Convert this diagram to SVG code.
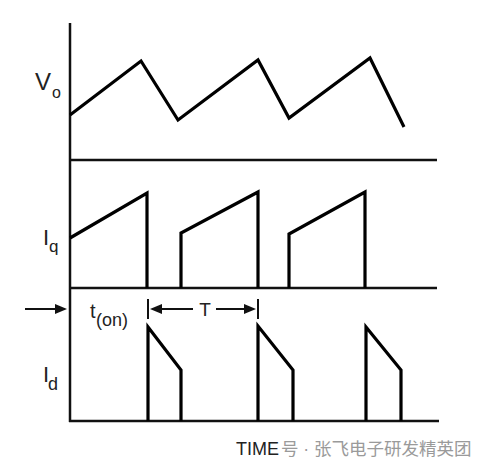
<svg xmlns="http://www.w3.org/2000/svg" width="490" height="474" viewBox="0 0 490 474">
<style>
.axis{stroke:#111;stroke-width:2.5;fill:none}
.wave{stroke:#000;stroke-width:3.2;fill:none;stroke-linejoin:miter}
.ann{stroke:#111;stroke-width:2;fill:none}
.head{fill:#111}
.lbl{font-family:"Liberation Sans",Arial,sans-serif;fill:#222}
.wm{font-family:"Liberation Sans","Noto Sans CJK SC",sans-serif;fill:#9a9a9a;font-size:17.5px}
</style>
<rect width="490" height="474" fill="#fff"/>
<g id="axes">
<line class="axis" x1="70" y1="23" x2="70" y2="422"/>
<line class="axis" x1="69" y1="160" x2="437" y2="160"/>
<line class="axis" x1="69" y1="288" x2="437" y2="288"/>
<line class="axis" x1="69" y1="421" x2="439" y2="421"/>
</g>
<g id="vo">
<polyline class="wave" points="70,115 141,61 178,120 258,60 289,118 370,58 404,127"/>
<text class="lbl" x="35" y="90" font-size="24">V</text>
<text class="lbl" x="52" y="98" font-size="16">o</text>
</g>
<g id="iq">
<polyline class="wave" points="70,238 147,193 147,288"/>
<polyline class="wave" points="181,288 181,233 258,192 258,288"/>
<polyline class="wave" points="289,288 289,234 365,192 365,288"/>
<text class="lbl" x="43" y="245" font-size="22">I</text>
<text class="lbl" x="49" y="252" font-size="17">q</text>
</g>
<g id="id">
<polyline class="wave" points="148,421 148,327 181,370 181,421"/>
<polyline class="wave" points="258,421 258,326 293,370 293,421"/>
<polyline class="wave" points="366,421 366,327 401,370 401,421"/>
<text class="lbl" x="43" y="382" font-size="22">I</text>
<text class="lbl" x="48" y="390" font-size="18">d</text>
</g>
<g id="connectors">
<line class="ann" x1="25" y1="309" x2="58" y2="309"/>
<polygon class="head" points="67,309 55,304 55,314"/>
<line class="ann" x1="148" y1="299" x2="148" y2="319"/>
<line class="ann" x1="258" y1="299" x2="258" y2="319"/>
<line class="ann" x1="158" y1="309" x2="193" y2="309"/>
<polygon class="head" points="150,309 162,304 162,314"/>
<line class="ann" x1="216" y1="309" x2="248" y2="309"/>
<polygon class="head" points="256,309 244,304 244,314"/>
</g>
<g id="labels">
<text class="lbl" x="90" y="318" font-size="20">t</text>
<text class="lbl" x="96" y="326" font-size="18">(on)</text>
<text class="lbl" x="205" y="316" font-size="19" text-anchor="middle">T</text>
<text class="lbl" x="236" y="455" font-size="18" fill="#111">TIME</text>
<text class="wm" x="281" y="455">号 · 张飞电子研发精英团</text>
</g>
</svg>
